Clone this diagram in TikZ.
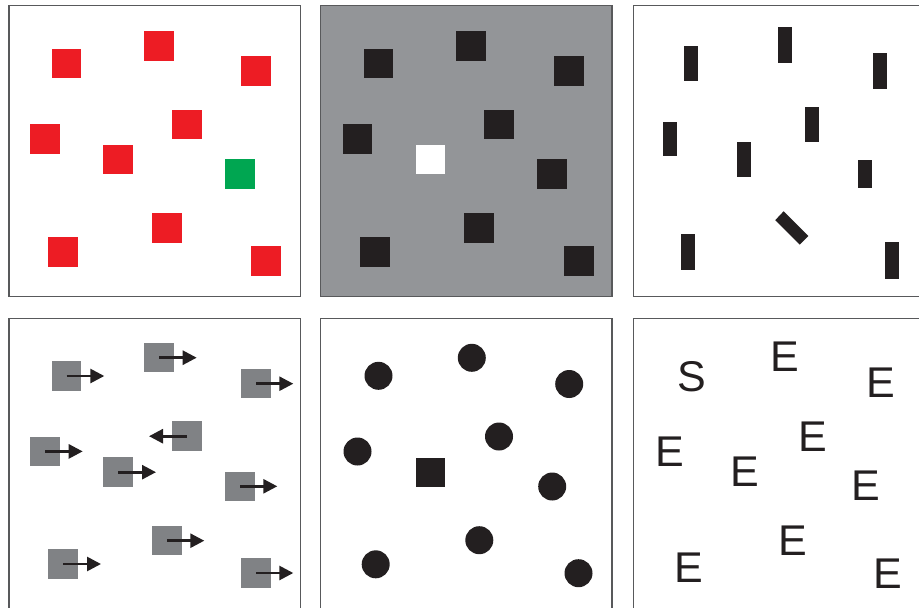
\documentclass[tikz,border=0pt]{standalone}
\usepackage{fontspec}
\newfontfamily\arialf{Liberation Sans}
\usetikzlibrary{arrows.meta}
\definecolor{redsq}{HTML}{ED1C24}
\definecolor{greensq}{HTML}{00A651}
\definecolor{blk}{HTML}{231F20}
\definecolor{bggray}{HTML}{939598}
\definecolor{midgray}{HTML}{808285}
\definecolor{framegray}{HTML}{58595B}
\begin{document}
\begin{tikzpicture}[x=1pt,y=-1pt,
  frame/.style={draw=framegray,line width=1.5pt},
  sqbox/.style={minimum size=29.5pt,inner sep=0pt,outer sep=0pt,draw=none,rectangle},
  dot/.style={circle,minimum size=28pt,inner sep=0pt,draw=none,fill=blk},
  bar/.style={rectangle,inner sep=0pt,draw=none,fill=blk,minimum width=14pt,minimum height=35.5pt},
  arr/.style={line width=2.7pt,draw=blk,-{Triangle[length=14pt,width=14pt]}},
  letter/.style={font=\arialf\fontsize{43}{43}\selectfont,text=blk,inner sep=0pt}]
\useasboundingbox (0,0) rectangle (919,608);
\clip (0,0) rectangle (919,608);
\fill[white] (0,0) rectangle (919,608);

% ---------- panel 1: colour ----------
\foreach \x/\y [count=\i] in {66.5/63.5,159/46,256/71,45/139,187/124.5,118/159.5,167/228,63/252,266/261}
  \node[sqbox,fill=redsq] (r\i) at (\x,\y) {};
\node[sqbox,fill=greensq] (g1) at (240,174) {};
\draw[frame] (9,5.7) rectangle (300.7,296.7);

% ---------- panel 2: luminance ----------
\fill[bggray] (320.3,5.7) rectangle (612,296.7);
\foreach \x/\y [count=\i] in {378.5/63.5,471/46,569/71,357.5/139,499/124.5,479/228,375/252,579/261,552/174}
  \node[sqbox,fill=blk] (b\i) at (\x,\y) {};
\node[sqbox,fill=white] (w1) at (430.7,159.5) {};
\draw[frame] (320.3,5.7) rectangle (612,296.7);

% ---------- panel 3: orientation ----------
\foreach \x/\y/\h [count=\i] in {691/63.3/35,784.5/45/36,880.3/71.3/36,670/139/34.6,812/124.5/35,743.5/159.7/34.7,864.5/174/28.7,688/252/36.3,891.5/260.5/36.4}
  \node[bar,minimum height=\h pt] (v\i) at (\x,\y) {};
\fill[blk] (775.2,220.2) -- (783.6,211.3) -- (808.4,236.0) -- (799.7,244.6) -- cycle;
\draw[frame] (925,5.7) -- (633.3,5.7) -- (633.3,296.7) -- (925,296.7);

% ---------- panel 4: motion ----------
\foreach \x/\y/\d [count=\i] in {66.5/376/37.8,159/357.7/37.7,256/383.7/37.3,45/451.4/37.7,187/436.2/-38,118/472.2/38,240/486.3/37.3,167/540.7/37.3,63/564/38,256/573/37.3}
{
  \node[sqbox,fill=midgray] (q\i) at (\x,\y) {};
  \draw[arr] (q\i.center) -- ++(\d,0);
}
\draw[frame] (9,612) -- (9,318.3) -- (300.7,318.3) -- (300.7,612);

% ---------- panel 5: shape ----------
\foreach \x/\y [count=\i] in {378.5/375.8,471.8/357.8,569.2/384,357.5/451.5,499/436.5,552.2/486.5,479.3/540.2,375.7/564.3,578.5/573.2}
  \node[dot] (c\i) at (\x,\y) {};
\node[sqbox,fill=blk] (k1) at (430.7,472.7) {};
\draw[frame] (320.3,612) -- (320.3,318.3) -- (612,318.3) -- (612,612);

% ---------- panel 6: letters ----------
\node[letter] (s1) at (692.2,376.2) {S};
\foreach \x/\y [count=\i] in {785.3/357.2,881.3/382.8,670.3/451.7,813/436.5,745.3/472,866.2/486,792.5/540.7,689.3/567.5,888/573.5}
  \node[letter] (e\i) at (\x,\y) {E};
\draw[frame] (633.3,612) -- (633.3,318.3) -- (925,318.3);
\end{tikzpicture}
\end{document}
